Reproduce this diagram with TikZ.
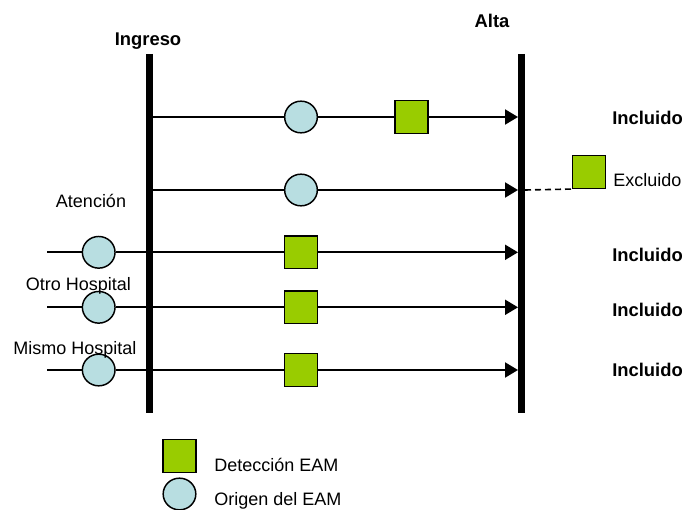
\documentclass[tikz,border=0pt]{standalone}
\usepackage{fontspec}
\setmainfont{Liberation Sans}
\usepackage{tikz}
\usetikzlibrary{shapes.geometric,arrows.meta,positioning}
\definecolor{OrigenBlue}{HTML}{B8DEE1}
\definecolor{DeteccionGreen}{HTML}{99CC00}

\begin{document}
\begin{tikzpicture}[x=0.75pt, y=-0.75pt,
  origen/.style={ellipse, draw=black, fill=OrigenBlue, line width=1.1pt, minimum width=24.5pt, minimum height=23.75pt, inner sep=0pt},
  deteccion/.style={rectangle, draw=black, fill=DeteccionGreen, line width=1.1pt, minimum size=24.5pt, inner sep=0pt},
  timeline/.style={black, line width=5.25pt},
  flow/.style={black, line width=1.5pt},
  flowarrow/.style={flow, -{Triangle[length=9.75pt, width=11.25pt]}},
  txt/.style={font=\fontsize{13.5}{16}\selectfont, inner sep=0pt},
  boldtxt/.style={font=\fontsize{13.8}{16}\selectfont\bfseries, inner sep=0pt}]

\clip (0,0) rectangle (686,510);

% admission / discharge headers
\node[boldtxt, anchor=base] (ingreso) at (148,46) {Ingreso};
\node[boldtxt, anchor=base] (alta) at (492,28) {Alta};

% row 1: origin and detection during stay
\coordinate (s1) at (153,117);
\coordinate (e1) at (518,117);
\node[origen] (o1) at (301,117) {};
\node[deteccion] (d1) at (411.5,117) {};
\draw[flowarrow] (s1) -- (o1) -- (d1) -- (e1);
\node[boldtxt, anchor=base west] (inc1) at (612,124.3) {Incluido};

% row 2: detection after discharge
\coordinate (s2) at (153,190);
\coordinate (e2) at (518,190);
\node[origen] (o2) at (301,190) {};
\draw[flowarrow] (s2) -- (o2) -- (e2);
\coordinate (x2) at (525,190);
\node[deteccion] (dx) at (589,172) {};
\draw[flow, line width=1.2pt, dash pattern=on 4.5pt off 3pt] (x2) -- (dx.south west);
\node[txt, anchor=base west] (exc) at (613,186.7) {Excluido};

% rows 3-5: origin before admission
\foreach \n/\y/\b in {3/252.3/261.7, 4/307.3/316.7, 5/370/376.7}{
  \coordinate (s\n) at (47,\y);
  \coordinate (e\n) at (518,\y);
  \node[origen] (o\n) at (98.7,\y) {};
  \node[deteccion] (d\n) at (301,\y) {};
  \draw[flowarrow] (s\n) -- (o\n) -- (d\n) -- (e\n);
  \node[boldtxt, anchor=base west] (inc\n) at (612,\b) {Incluido};
}
\node[txt, anchor=base] (atencion) at (91,207) {Atención};
\node[txt, anchor=base] (otro) at (78.5,290) {Otro Hospital};
\node[txt, anchor=base] (mismo) at (75,354) {Mismo Hospital};

% timelines
\coordinate (ingTop) at (149,54);
\coordinate (ingBot) at (149,413);
\coordinate (altTop) at (521.5,54);
\coordinate (altBot) at (521.5,413);
\draw[timeline] (ingTop) -- (ingBot);
\draw[timeline] (altTop) -- (altBot);

% legend
\node[deteccion] (legD) at (179.5,456) {};
\node[origen] (legO) at (179.5,494) {};
\node[txt, anchor=base west] (legDtxt) at (214,471.7) {Detección EAM};
\node[txt, anchor=base west] (legOtxt) at (214,505.5) {Origen del EAM};
\end{tikzpicture}
\end{document}
